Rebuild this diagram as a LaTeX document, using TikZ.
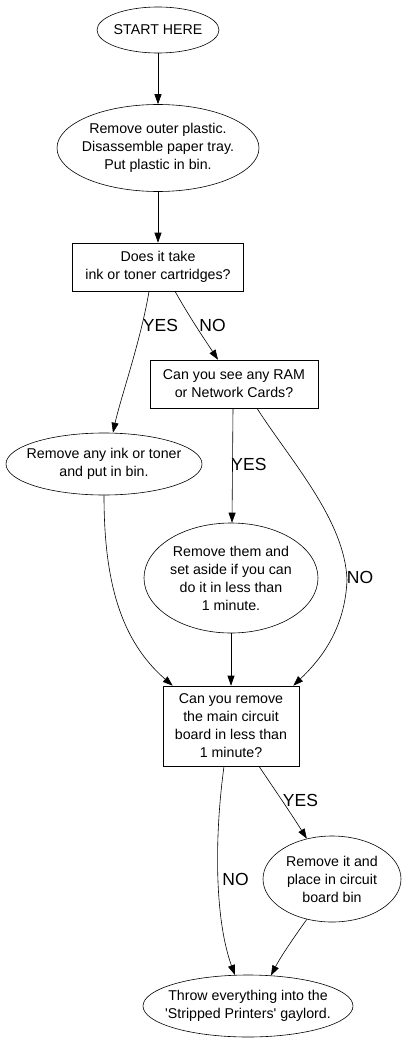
\documentclass[tikz,border=0pt]{standalone}
\usepackage{fontspec}
\setmainfont{Liberation Sans}
\usetikzlibrary{shapes.geometric,arrows.meta}

\tikzset{
  oval/.style={ellipse, draw, line width=0.6pt, inner sep=-60pt, align=center,
    font=\fontsize{14.2}{18}\selectfont},
  qbox/.style={rectangle, draw, line width=0.6pt, inner sep=2pt, align=center,
    font=\fontsize{14.2}{18}\selectfont},
  answer/.style={font=\fontsize{17.5}{20}\selectfont, inner sep=0pt},
  flow/.style={-{Triangle[length=10pt,width=7pt]}, line width=0.6pt}
}

\begin{document}
\begin{tikzpicture}[x=1pt, y=-1pt]
  \useasboundingbox (0,0) rectangle (407,1043);

  % steps and questions
  \node[oval, minimum width=122pt, minimum height=46pt] (start) at (158,30) {START HERE};
  \node[oval, minimum width=202pt, minimum height=87pt] (plastic) at (158,148)
    {Remove outer plastic.\\Disassemble paper tray.\\Put plastic in bin.};
  \node[qbox, minimum width=171pt, minimum height=48pt] (cart) at (158,267)
    {Does it take\\ink or toner cartridges?};
  \node[qbox, minimum width=168pt, minimum height=48pt] (ram) at (234,384)
    {Can you see any RAM\\or Network Cards?};
  \node[oval, minimum width=196pt, minimum height=62pt] (ink) at (104,464)
    {Remove any ink or toner\\and put in bin.};
  \node[oval, minimum width=174pt, minimum height=110pt] (cards) at (231,578)
    {Remove them and\\set aside if you can\\do it in less than\\1 minute.};
  \node[qbox, minimum width=136pt, minimum height=80pt] (board) at (231,726)
    {Can you remove\\the main circuit\\board in less than\\1 minute?};
  \node[oval, minimum width=138pt, minimum height=86pt] (bin) at (332,879)
    {Remove it and\\place in circuit\\board bin};
  \node[oval, minimum width=210pt, minimum height=62pt] (gaylord) at (248,1006)
    {Throw everything into the\\\textquotesingle Stripped Printers\textquotesingle{} gaylord.};

  % answers
  \node[answer] (yesA) at (160.5,325) {YES};
  \node[answer] (noA) at (212.5,325) {NO};
  \node[answer] (yesB) at (249,464) {YES};
  \node[answer] (noB) at (360,577) {NO};
  \node[answer] (yesC) at (300.5,800) {YES};
  \node[answer] (noC) at (235.5,879) {NO};

  % connectors
  \draw[flow] (start.south) -- (plastic.north);
  \draw[flow] (plastic.south) -- (cart.north);
  \draw[flow] ([xshift=-9pt]cart.south) .. controls (141,340) and (120,400) .. ([xshift=9pt]ink.north);
  \draw[flow] ([xshift=17pt]cart.south) .. controls (190,318) and (205,340) .. ([xshift=-16pt]ram.north);
  \draw[flow] ([xshift=-1pt]ram.south) -- ([xshift=1pt]cards.north);
  \draw[flow] ([xshift=23pt]ram.south) .. controls (290,460) and (345,520) .. (347,580)
    .. controls (345,630) and (320,660) .. ([xshift=-6pt]board.north east);
  \draw[flow] (ink.south) .. controls (104,580) and (120,640) .. ([xshift=10pt]board.north west);
  \draw[flow] (cards.south) -- (board.north);
  \draw[flow] ([xshift=28pt]board.south) .. controls (275,790) and (292,815) .. (bin.122);
  \draw[flow] ([xshift=-7pt]board.south) .. controls (214,840) and (215,920) .. (gaylord.113);
  \draw[flow] (bin.238) .. controls (292,940) and (280,958) .. (gaylord.53);
\end{tikzpicture}
\end{document}
